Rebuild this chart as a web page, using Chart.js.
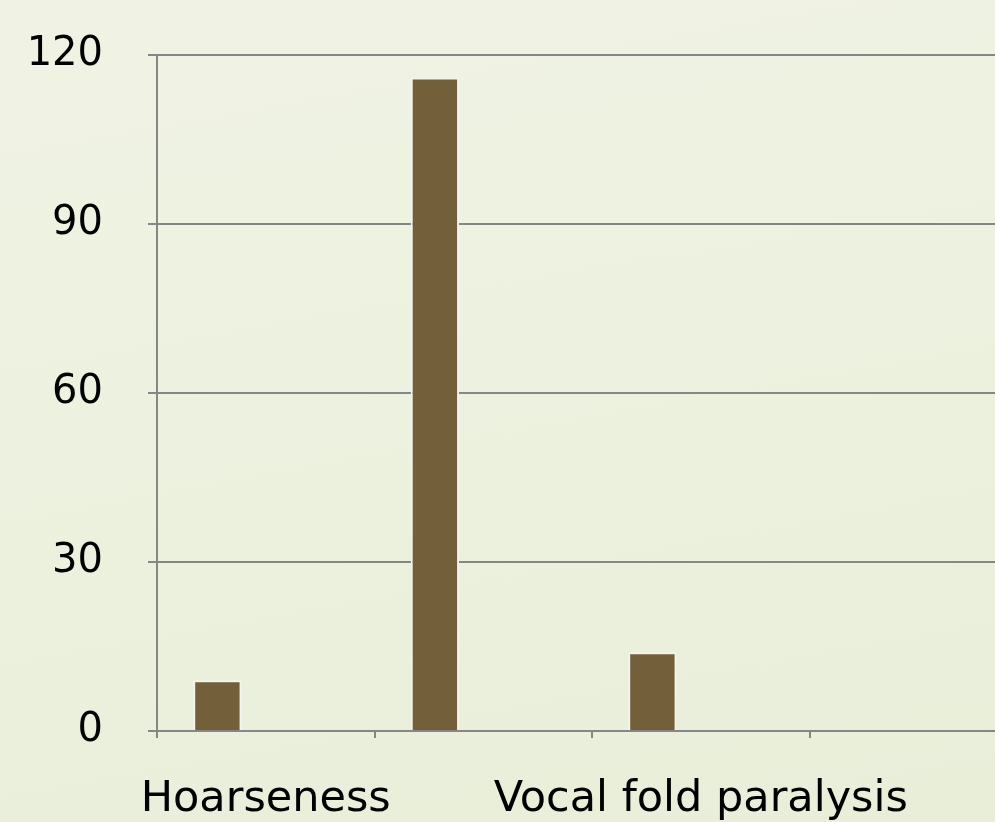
<!DOCTYPE html>
<html>
<head>
<meta charset="utf-8">
<script src="https://cdn.jsdelivr.net/npm/chart.js@4.4.1/dist/chart.umd.min.js"></script>
<style>
  html, body { margin:0; padding:0; width:995px; height:822px; overflow:hidden; }
  body { background: linear-gradient(170deg, #f0f3e4 0%, #ecf1de 60%, #e8eed8 100%); }
  canvas { display:block; }
</style>
</head>
<body>
<canvas id="chart" width="1028" height="822"></canvas>
<script>
// ---- data ----
const categories = ['Hoarseness', '', 'Vocal fold paralysis', ''];
const series1 = [9, 116, 14, null];
const series2 = [null, null, null, null];
const series3 = [null, null, null, null];
const yTicks = [0, 30, 60, 90, 120];

const GRID = '#868686';
const BAR = '#735f3a';
const FONT = 'DejaVu Sans, sans-serif';

const ctx = document.getElementById('chart').getContext('2d');
new Chart(ctx, {
  type: 'bar',
  data: {
    labels: categories,
    datasets: [
      { data: series1, backgroundColor: BAR, borderColor: '#f4f4ee', borderWidth: 2 },
      { data: series2, backgroundColor: BAR },
      { data: series3, backgroundColor: BAR }
    ]
  },
  options: {
    responsive: false,
    animation: false,
    categoryPercentage: 0.667,
    barPercentage: 1,
    layout: { padding: { top: 55, right: 1, bottom: 0, left: 0 } },
    plugins: { legend: { display: false }, tooltip: { enabled: false } },
    scales: {
      x: {
        grid: { drawOnChartArea: false, color: GRID, lineWidth: 2, tickLength: 7, offset: true },
        border: { color: GRID, width: 2 },
        ticks: {
          color: '#000', font: { family: FONT, size: 43 }, padding: 36,
          autoSkip: false, maxRotation: 0, minRotation: 0
        },
        afterFit: s => { s.height = 91; }
      },
      y: {
        min: yTicks[0], max: yTicks[yTicks.length - 1],
        afterBuildTicks: s => { s.ticks = yTicks.map(v => ({ value: v })); },
        grid: { color: GRID, lineWidth: 2, tickLength: 9 },
        border: { color: GRID, width: 2 },
        ticks: { color: '#000', font: { family: FONT, size: 40 }, padding: 45 },
        // keep the label gap from pushing the plot top down
        afterFit: s => { s.width = 157; s.paddingTop = 20; s.paddingBottom = 20; }
      }
    }
  }
});
</script>
</body>
</html>
